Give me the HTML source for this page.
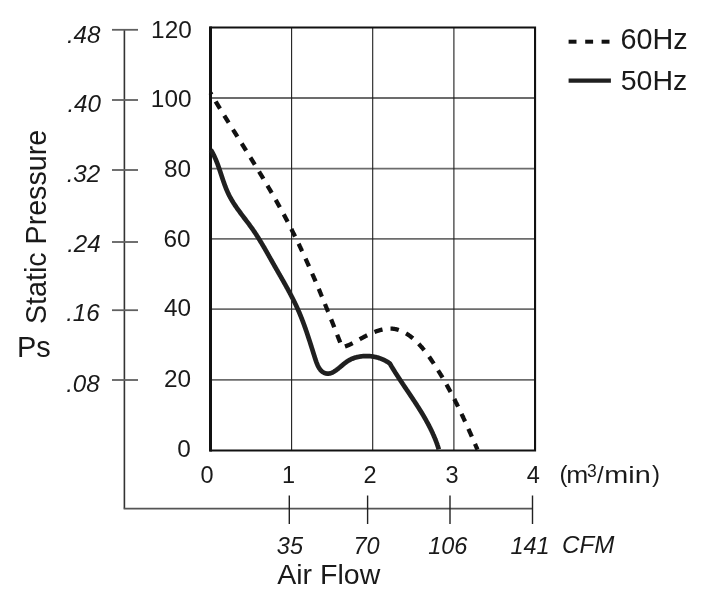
<!DOCTYPE html><html><head><meta charset="utf-8"><title>Static Pressure vs Air Flow</title>
<style>html,body{margin:0;padding:0;background:#fff;}body{width:706px;height:596px;overflow:hidden;}svg{display:block;filter:grayscale(1);}text{font-family:'Liberation Sans', Arial, Helvetica, sans-serif;fill:#1c1a1b;}</style></head><body>
<svg width="706" height="596" viewBox="0 0 706 596">
<rect width="706" height="596" fill="#fff"/>
<line x1="210.6" y1="98.00" x2="535.0" y2="98.00" stroke="#6c6c6c" stroke-width="1.8"/>
<line x1="210.6" y1="168.60" x2="535.0" y2="168.60" stroke="#6c6c6c" stroke-width="1.8"/>
<line x1="210.6" y1="238.90" x2="535.0" y2="238.90" stroke="#6c6c6c" stroke-width="1.8"/>
<line x1="210.6" y1="309.20" x2="535.0" y2="309.20" stroke="#6c6c6c" stroke-width="1.8"/>
<line x1="210.6" y1="379.80" x2="535.0" y2="379.80" stroke="#6c6c6c" stroke-width="1.8"/>
<line x1="291.60" y1="27.5" x2="291.60" y2="450.5" stroke="#1e1e1e" stroke-width="1.1"/>
<line x1="372.70" y1="27.5" x2="372.70" y2="450.5" stroke="#1e1e1e" stroke-width="1.1"/>
<line x1="453.90" y1="27.5" x2="453.90" y2="450.5" stroke="#1e1e1e" stroke-width="1.1"/>
<path d="M210.60 27.50 H535.05 V450.50 H210.60" fill="none" stroke="#111" stroke-width="2.1" stroke-linecap="square"/>
<line x1="210.5" y1="26.5" x2="210.5" y2="451.5" stroke="#111" stroke-width="3"/>
<line x1="124.4" y1="29.8" x2="124.4" y2="508.6" stroke="#333" stroke-width="1.6"/>
<line x1="112" y1="29.8" x2="138" y2="29.8" stroke="#606060" stroke-width="1.8"/>
<line x1="112" y1="100.0" x2="138" y2="100.0" stroke="#606060" stroke-width="1.8"/>
<line x1="112" y1="170.0" x2="138" y2="170.0" stroke="#606060" stroke-width="1.8"/>
<line x1="112" y1="242.0" x2="138" y2="242.0" stroke="#606060" stroke-width="1.8"/>
<line x1="112" y1="310.2" x2="138" y2="310.2" stroke="#606060" stroke-width="1.8"/>
<line x1="112" y1="380.0" x2="138" y2="380.0" stroke="#606060" stroke-width="1.8"/>
<line x1="123.6" y1="508.6" x2="532.5" y2="508.6" stroke="#555" stroke-width="1.8"/>
<line x1="289.3" y1="495.5" x2="289.3" y2="524" stroke="#222" stroke-width="1.4"/>
<line x1="367.6" y1="495.5" x2="367.6" y2="524" stroke="#222" stroke-width="1.4"/>
<line x1="450.0" y1="495.5" x2="450.0" y2="524" stroke="#222" stroke-width="1.4"/>
<line x1="532.5" y1="495.5" x2="532.5" y2="524" stroke="#222" stroke-width="1.4"/>
<path d="M210.75 149.76 L211.09 150.31 L211.43 150.86 L211.75 151.42 L212.07 151.98 L212.39 152.54 L212.69 153.11 L213.00 153.68 L213.30 154.25 L213.59 154.83 L213.88 155.41 L214.16 155.99 L214.44 156.57 L214.71 157.16 L214.98 157.75 L215.24 158.34 L215.50 158.94 L215.76 159.53 L216.01 160.13 L216.26 160.73 L216.50 161.33 L216.74 161.94 L216.98 162.55 L217.22 163.15 L217.45 163.76 L217.68 164.38 L217.90 164.99 L218.13 165.60 L218.35 166.22 L218.57 166.84 L218.79 167.45 L219.00 168.07 L219.22 168.69 L219.43 169.32 L219.64 169.94 L219.85 170.56 L220.06 171.18 L220.27 171.81 L220.48 172.43 L220.68 173.06 L220.89 173.68 L221.09 174.31 L221.30 174.93 L221.51 175.56 L221.71 176.18 L221.92 176.81 L222.12 177.43 L222.33 178.06 L222.54 178.68 L222.75 179.30 L222.96 179.93 L223.17 180.55 L223.38 181.17 L223.59 181.79 L223.81 182.41 L224.03 183.03 L224.25 183.65 L224.47 184.26 L224.69 184.88 L224.92 185.49 L225.15 186.10 L225.38 186.72 L225.62 187.32 L225.85 187.93 L226.09 188.54 L226.34 189.14 L226.59 189.74 L226.84 190.34 L227.09 190.94 L227.35 191.53 L227.62 192.13 L227.89 192.72 L228.16 193.31 L228.44 193.89 L228.72 194.47 L229.00 195.05 L229.30 195.63 L229.59 196.21 L229.89 196.78 L230.20 197.35 L230.51 197.91 L230.82 198.48 L231.14 199.04 L231.46 199.60 L231.79 200.16 L232.12 200.71 L232.46 201.27 L232.79 201.82 L233.13 202.37 L233.48 202.91 L233.83 203.46 L234.18 204.00 L234.53 204.55 L234.89 205.09 L235.25 205.62 L235.61 206.16 L235.98 206.70 L236.35 207.23 L236.72 207.76 L237.09 208.30 L237.46 208.83 L237.84 209.36 L238.22 209.88 L238.60 210.41 L238.98 210.94 L239.37 211.46 L239.75 211.99 L240.14 212.51 L240.53 213.03 L240.92 213.55 L241.31 214.08 L241.70 214.60 L242.09 215.12 L242.48 215.64 L242.88 216.16 L243.27 216.68 L243.67 217.20 L244.06 217.71 L244.45 218.23 L244.85 218.75 L245.24 219.27 L245.64 219.79 L246.03 220.31 L246.43 220.83 L246.82 221.35 L247.21 221.87 L247.61 222.39 L248.00 222.91 L248.39 223.43 L248.78 223.95 L249.16 224.47 L249.55 224.99 L249.94 225.52 L250.32 226.04 L250.70 226.57 L251.08 227.09 L251.46 227.62 L251.84 228.15 L252.21 228.68 L252.58 229.21 L252.95 229.74 L253.32 230.28 L253.69 230.81 L254.05 231.34 L254.42 231.88 L254.78 232.42 L255.14 232.96 L255.49 233.50 L255.85 234.04 L256.20 234.58 L256.55 235.12 L256.90 235.66 L257.25 236.21 L257.60 236.75 L257.95 237.30 L258.29 237.84 L258.63 238.39 L258.98 238.94 L259.32 239.49 L259.65 240.04 L259.99 240.59 L260.33 241.14 L260.66 241.69 L261.00 242.25 L261.33 242.80 L261.66 243.35 L261.99 243.91 L262.32 244.46 L262.65 245.02 L262.98 245.58 L263.31 246.14 L263.64 246.69 L263.96 247.25 L264.29 247.81 L264.61 248.37 L264.93 248.93 L265.26 249.49 L265.58 250.06 L265.90 250.62 L266.22 251.18 L266.55 251.74 L266.87 252.31 L267.19 252.87 L267.51 253.43 L267.83 254.00 L268.15 254.56 L268.47 255.13 L268.79 255.69 L269.10 256.26 L269.42 256.83 L269.74 257.39 L270.06 257.96 L270.38 258.53 L270.70 259.09 L271.02 259.66 L271.34 260.23 L271.66 260.79 L271.98 261.36 L272.30 261.93 L272.62 262.50 L272.94 263.07 L273.26 263.64 L273.58 264.20 L273.91 264.77 L274.23 265.34 L274.55 265.91 L274.87 266.48 L275.20 267.05 L275.52 267.61 L275.85 268.18 L276.17 268.75 L276.50 269.32 L276.83 269.89 L277.15 270.46 L277.48 271.03 L277.80 271.60 L278.13 272.16 L278.46 272.73 L278.78 273.30 L279.11 273.87 L279.44 274.44 L279.76 275.01 L280.09 275.58 L280.42 276.15 L280.74 276.72 L281.07 277.29 L281.40 277.86 L281.72 278.43 L282.05 279.00 L282.37 279.57 L282.70 280.15 L283.02 280.72 L283.35 281.29 L283.67 281.86 L283.99 282.43 L284.31 283.00 L284.64 283.58 L284.96 284.15 L285.28 284.72 L285.60 285.29 L285.92 285.87 L286.24 286.44 L286.55 287.01 L286.87 287.59 L287.19 288.16 L287.50 288.73 L287.82 289.31 L288.13 289.88 L288.44 290.46 L288.75 291.03 L289.06 291.61 L289.37 292.18 L289.68 292.76 L289.99 293.34 L290.29 293.91 L290.60 294.49 L290.90 295.07 L291.21 295.64 L291.51 296.22 L291.81 296.80 L292.10 297.38 L292.40 297.96 L292.70 298.54 L292.99 299.11 L293.28 299.69 L293.57 300.27 L293.86 300.85 L294.15 301.44 L294.43 302.02 L294.72 302.60 L295.00 303.18 L295.28 303.76 L295.56 304.34 L295.84 304.93 L296.11 305.51 L296.39 306.09 L296.66 306.68 L296.93 307.26 L297.19 307.85 L297.46 308.43 L297.72 309.02 L297.98 309.60 L298.24 310.19 L298.50 310.78 L298.76 311.37 L299.01 311.95 L299.26 312.54 L299.51 313.13 L299.76 313.72 L300.00 314.31 L300.25 314.90 L300.49 315.49 L300.73 316.08 L300.97 316.68 L301.21 317.27 L301.44 317.86 L301.68 318.46 L301.91 319.05 L302.14 319.65 L302.37 320.24 L302.60 320.84 L302.83 321.44 L303.06 322.04 L303.28 322.64 L303.50 323.24 L303.73 323.84 L303.95 324.44 L304.17 325.04 L304.39 325.64 L304.60 326.25 L304.82 326.85 L305.04 327.46 L305.25 328.06 L305.47 328.67 L305.68 329.28 L305.89 329.89 L306.10 330.50 L306.31 331.11 L306.52 331.72 L306.73 332.33 L306.94 332.95 L307.15 333.56 L307.36 334.18 L307.56 334.79 L307.77 335.41 L307.97 336.03 L308.18 336.65 L308.38 337.27 L308.59 337.89 L308.79 338.51 L309.00 339.14 L309.20 339.76 L309.40 340.39 L309.61 341.02 L309.81 341.65 L310.01 342.27 L310.21 342.91 L310.42 343.54 L310.62 344.17 L310.82 344.81 L311.02 345.44 L311.23 346.08 L311.43 346.72 L311.63 347.36 L311.83 348.00 L312.04 348.64 L312.24 349.28 L312.44 349.93 L312.65 350.57 L312.85 351.22 L313.06 351.87 L313.26 352.52 L313.47 353.17 L313.67 353.82 L313.88 354.48 L314.09 355.13 L314.29 355.79 L314.50 356.45 L314.71 357.11 L314.92 357.77 L315.13 358.43 L315.35 359.09 L315.56 359.75 L315.78 360.41 L316.01 361.06 L316.23 361.71 L316.47 362.35 L316.71 362.98 L316.96 363.61 L317.21 364.22 L317.47 364.83 L317.74 365.43 L318.02 366.01 L318.31 366.58 L318.61 367.13 L318.92 367.67 L319.25 368.20 L319.58 368.70 L319.93 369.19 L320.29 369.66 L320.67 370.11 L321.06 370.53 L321.47 370.94 L321.89 371.32 L322.33 371.67 L322.79 372.00 L323.27 372.30 L323.76 372.58 L324.27 372.82 L324.79 373.04 L325.32 373.22 L325.87 373.38 L326.42 373.49 L326.99 373.57 L327.56 373.62 L328.13 373.63 L328.71 373.60 L329.29 373.52 L329.87 373.41 L330.44 373.26 L331.02 373.07 L331.60 372.84 L332.17 372.59 L332.74 372.30 L333.30 372.00 L333.86 371.68 L334.41 371.34 L334.96 370.98 L335.50 370.62 L336.04 370.24 L336.57 369.86 L337.10 369.46 L337.63 369.06 L338.15 368.64 L338.67 368.23 L339.19 367.80 L339.71 367.38 L340.23 366.94 L340.74 366.51 L341.26 366.08 L341.78 365.64 L342.30 365.21 L342.81 364.78 L343.33 364.35 L343.86 363.93 L344.38 363.51 L344.91 363.10 L345.44 362.69 L345.98 362.29 L346.52 361.90 L347.06 361.53 L347.62 361.16 L348.17 360.80 L348.74 360.46 L349.31 360.13 L349.88 359.82 L350.46 359.52 L351.05 359.24 L351.65 358.97 L352.25 358.71 L352.85 358.47 L353.46 358.24 L354.08 358.02 L354.70 357.81 L355.32 357.62 L355.95 357.44 L356.58 357.27 L357.21 357.11 L357.84 356.97 L358.48 356.84 L359.12 356.71 L359.76 356.60 L360.41 356.50 L361.05 356.41 L361.69 356.32 L362.34 356.25 L362.98 356.19 L363.63 356.14 L364.28 356.10 L364.92 356.07 L365.57 356.05 L366.22 356.03 L366.86 356.03 L367.51 356.04 L368.15 356.06 L368.80 356.09 L369.44 356.13 L370.08 356.18 L370.73 356.24 L371.37 356.31 L372.01 356.39 L372.64 356.48 L373.28 356.58 L373.92 356.70 L374.55 356.82 L375.18 356.95 L375.81 357.09 L376.44 357.24 L377.07 357.41 L377.69 357.58 L378.31 357.76 L378.93 357.96 L379.54 358.16 L380.16 358.37 L380.77 358.60 L381.37 358.83 L381.98 359.08 L382.58 359.34 L383.18 359.60 L383.77 359.88 L384.36 360.17 L384.94 360.47 L385.53 360.77 L386.11 361.09 L386.68 361.42 L387.25 361.76 L387.81 362.11 L388.38 362.47 L388.93 362.84 L389.48 363.23 L389.83 363.52 L390.08 363.96 L390.33 364.38 L390.59 364.81 L390.84 365.24 L391.09 365.67 L391.35 366.10 L391.60 366.53 L391.86 366.95 L392.12 367.38 L392.38 367.81 L392.64 368.23 L392.90 368.66 L393.16 369.09 L393.42 369.51 L393.68 369.93 L393.95 370.36 L394.21 370.78 L394.48 371.21 L394.74 371.63 L395.01 372.05 L395.27 372.48 L395.54 372.90 L395.81 373.32 L396.08 373.74 L396.35 374.17 L396.62 374.59 L396.89 375.01 L397.16 375.43 L397.43 375.85 L397.70 376.27 L397.98 376.69 L398.25 377.11 L398.52 377.53 L398.80 377.95 L399.07 378.37 L399.35 378.79 L399.62 379.21 L399.90 379.63 L400.17 380.05 L400.45 380.47 L400.73 380.88 L401.00 381.30 L401.28 381.72 L401.56 382.14 L401.84 382.56 L402.12 382.97 L402.40 383.39 L402.68 383.81 L402.95 384.23 L403.23 384.64 L403.51 385.06 L403.79 385.48 L404.07 385.90 L404.36 386.31 L404.64 386.73 L404.92 387.15 L405.20 387.56 L405.48 387.98 L405.76 388.40 L406.04 388.82 L406.32 389.23 L406.60 389.65 L406.88 390.07 L407.17 390.48 L407.45 390.90 L407.73 391.32 L408.01 391.73 L408.29 392.15 L408.57 392.57 L408.85 392.99 L409.13 393.40 L409.41 393.82 L409.69 394.24 L409.98 394.66 L410.26 395.07 L410.54 395.49 L410.82 395.91 L411.10 396.33 L411.38 396.75 L411.66 397.16 L411.93 397.58 L412.21 398.00 L412.49 398.42 L412.77 398.84 L413.05 399.26 L413.33 399.68 L413.60 400.09 L413.88 400.51 L414.16 400.93 L414.43 401.35 L414.71 401.77 L414.99 402.19 L415.26 402.61 L415.54 403.04 L415.81 403.46 L416.08 403.88 L416.36 404.30 L416.63 404.72 L416.90 405.14 L417.17 405.57 L417.45 405.99 L417.72 406.41 L417.99 406.83 L418.26 407.26 L418.53 407.68 L418.79 408.10 L419.06 408.53 L419.33 408.95 L419.60 409.38 L419.86 409.80 L420.13 410.23 L420.39 410.66 L420.65 411.08 L420.92 411.51 L421.18 411.94 L421.44 412.36 L421.70 412.79 L421.96 413.22 L422.22 413.65 L422.48 414.08 L422.74 414.51 L422.99 414.94 L423.25 415.37 L423.50 415.80 L423.76 416.23 L424.01 416.66 L424.26 417.10 L424.51 417.53 L424.76 417.96 L425.01 418.40 L425.26 418.83 L425.51 419.26 L425.75 419.70 L426.00 420.14 L426.24 420.57 L426.48 421.01 L426.72 421.45 L426.97 421.88 L427.20 422.32 L427.44 422.76 L427.68 423.20 L427.92 423.64 L428.15 424.08 L428.39 424.52 L428.62 424.96 L428.85 425.41 L429.08 425.85 L429.31 426.29 L429.54 426.74 L429.76 427.18 L429.99 427.63 L430.21 428.08 L430.43 428.52 L430.65 428.97 L430.87 429.42 L431.09 429.87 L431.31 430.32 L431.52 430.77 L431.74 431.22 L431.95 431.67 L432.16 432.12 L432.37 432.58 L432.58 433.03 L432.79 433.48 L432.99 433.94 L433.19 434.40 L433.40 434.85 L433.60 435.31 L433.80 435.77 L433.99 436.23 L434.19 436.69 L434.38 437.15 L434.58 437.61 L434.77 438.07 L434.96 438.53 L435.14 439.00 L435.33 439.46 L435.51 439.93 L435.70 440.40 L435.88 440.86 L436.06 441.33 L436.23 441.80 L436.41 442.27 L436.58 442.74 L436.76 443.21 L436.93 443.68 L437.09 444.16 L437.26 444.63 L437.42 445.11 L437.59 445.58 L437.75 446.06 L437.91 446.54 L438.06 447.02 L438.22 447.50 L438.37 447.98 L438.52 448.46 L438.67 448.94 L438.82 449.43" fill="none" stroke="#231f20" stroke-width="4.7" stroke-linejoin="round"/>
<path d="M210.48 92.87 L210.69 93.23 L210.90 93.58 L211.11 93.93 L211.32 94.28 L211.53 94.63 L211.74 94.99 L211.95 95.34 L212.17 95.69 L212.38 96.04 L212.59 96.39 L212.80 96.75 L213.01 97.10 L213.22 97.45 L213.43 97.80 L213.64 98.15 L213.85 98.50 L214.07 98.86 L214.28 99.21 L214.49 99.56 L214.70 99.91 L214.91 100.26 L215.13 100.61 L215.34 100.96 L215.55 101.31 L215.76 101.67 L215.97 102.02 L216.19 102.37 L216.40 102.72 L216.61 103.07 L216.83 103.42 L217.04 103.77 L217.25 104.12 L217.47 104.47 L217.68 104.82 L217.89 105.17 L218.11 105.52 L218.32 105.87 L218.53 106.22 L218.75 106.57 L218.96 106.92 L219.18 107.28 L219.39 107.63 L219.60 107.98 L219.82 108.33 L220.03 108.68 L220.25 109.03 L220.46 109.38 L220.68 109.73 L220.89 110.08 L221.11 110.43 L221.32 110.78 L221.54 111.13 L221.75 111.48 L221.97 111.83 L222.18 112.17 L222.40 112.52 L222.61 112.87 L222.83 113.22 L223.04 113.57 L223.26 113.92 L223.47 114.27 L223.69 114.62 L223.91 114.97 L224.12 115.32 L224.34 115.67 L224.55 116.02 L224.77 116.37 L224.99 116.72 L225.20 117.07 L225.42 117.42 L225.63 117.77 L225.85 118.12 L226.07 118.46 L226.28 118.81 L226.50 119.16 L226.72 119.51 L226.93 119.86 L227.15 120.21 L227.37 120.56 L227.58 120.91 L227.80 121.26 L228.02 121.61 L228.23 121.96 L228.45 122.30 L228.67 122.65 L228.89 123.00 L229.10 123.35 L229.32 123.70 L229.54 124.05 L229.75 124.40 L229.97 124.75 L230.19 125.09 L230.41 125.44 L230.62 125.79 L230.84 126.14 L231.06 126.49 L231.28 126.84 L231.49 127.19 L231.71 127.54 L231.93 127.88 L232.15 128.23 L232.36 128.58 L232.58 128.93 L232.80 129.28 L233.02 129.63 L233.24 129.98 L233.45 130.33 L233.67 130.67 L233.89 131.02 L234.11 131.37 L234.32 131.72 L234.54 132.07 L234.76 132.42 L234.98 132.76 L235.20 133.11 L235.41 133.46 L235.63 133.81 L235.85 134.16 L236.07 134.51 L236.29 134.86 L236.50 135.20 L236.72 135.55 L236.94 135.90 L237.16 136.25 L237.38 136.60 L237.59 136.95 L237.81 137.30 L238.03 137.64 L238.25 137.99 L238.47 138.34 L238.68 138.69 L238.90 139.04 L239.12 139.39 L239.34 139.74 L239.56 140.08 L239.77 140.43 L239.99 140.78 L240.21 141.13 L240.43 141.48 L240.65 141.83 L240.86 142.18 L241.08 142.52 L241.30 142.87 L241.52 143.22 L241.74 143.57 L241.95 143.92 L242.17 144.27 L242.39 144.62 L242.61 144.96 L242.83 145.31 L243.04 145.66 L243.26 146.01 L243.48 146.36 L243.70 146.71 L243.91 147.06 L244.13 147.41 L244.35 147.75 L244.57 148.10 L244.78 148.45 L245.00 148.80 L245.22 149.15 L245.44 149.50 L245.65 149.85 L245.87 150.20 L246.09 150.55 L246.31 150.89 L246.52 151.24 L246.74 151.59 L246.96 151.94 L247.18 152.29 L247.39 152.64 L247.61 152.99 L247.83 153.34 L248.04 153.69 L248.26 154.04 L248.48 154.39 L248.69 154.73 L248.91 155.08 L249.13 155.43 L249.34 155.78 L249.56 156.13 L249.78 156.48 L249.99 156.83 L250.21 157.18 L250.43 157.53 L250.64 157.88 L250.86 158.23 L251.08 158.58 L251.29 158.93 L251.51 159.28 L251.73 159.63 L251.94 159.98 L252.16 160.33 L252.37 160.68 L252.59 161.03 L252.80 161.38 L253.02 161.73 L253.24 162.08 L253.45 162.43 L253.67 162.78 L253.88 163.13 L254.10 163.48 L254.31 163.83 L254.53 164.18 L254.74 164.53 L254.96 164.88 L255.17 165.23 L255.39 165.58 L255.60 165.93 L255.82 166.28 L256.03 166.63 L256.25 166.98 L256.46 167.33 L256.68 167.68 L256.89 168.03 L257.10 168.38 L257.32 168.73 L257.53 169.08 L257.75 169.43 L257.96 169.78 L258.17 170.13 L258.39 170.49 L258.60 170.84 L258.81 171.19 L259.03 171.54 L259.24 171.89 L259.45 172.24 L259.67 172.59 L259.88 172.94 L260.09 173.30 L260.31 173.65 L260.52 174.00 L260.73 174.35 L260.94 174.70 L261.16 175.05 L261.37 175.40 L261.58 175.76 L261.79 176.11 L262.00 176.46 L262.22 176.81 L262.43 177.16 L262.64 177.52 L262.85 177.87 L263.06 178.22 L263.27 178.57 L263.48 178.93 L263.69 179.28 L263.91 179.63 L264.12 179.98 L264.33 180.34 L264.54 180.69 L264.75 181.04 L264.96 181.39 L265.17 181.75 L265.38 182.10 L265.59 182.45 L265.80 182.80 L266.01 183.16 L266.22 183.51 L266.43 183.86 L266.64 184.22 L266.84 184.57 L267.05 184.92 L267.26 185.28 L267.47 185.63 L267.68 185.99 L267.89 186.34 L268.10 186.69 L268.30 187.05 L268.51 187.40 L268.72 187.75 L268.93 188.11 L269.13 188.46 L269.34 188.82 L269.55 189.17 L269.76 189.53 L269.96 189.88 L270.17 190.23 L270.38 190.59 L270.58 190.94 L270.79 191.30 L271.00 191.65 L271.20 192.01 L271.41 192.36 L271.61 192.72 L271.82 193.07 L272.02 193.43 L272.23 193.78 L272.43 194.14 L272.64 194.50 L272.84 194.85 L273.05 195.21 L273.25 195.56 L273.46 195.92 L273.66 196.27 L273.86 196.63 L274.07 196.99 L274.27 197.34 L274.47 197.70 L274.68 198.06 L274.88 198.41 L275.08 198.77 L275.29 199.13 L275.49 199.48 L275.69 199.84 L275.89 200.20 L276.09 200.55 L276.30 200.91 L276.50 201.27 L276.70 201.63 L276.90 201.98 L277.10 202.34 L277.30 202.70 L277.50 203.06 L277.70 203.41 L277.90 203.77 L278.10 204.13 L278.30 204.49 L278.50 204.85 L278.70 205.20 L278.90 205.56 L279.10 205.92 L279.30 206.28 L279.50 206.64 L279.70 207.00 L279.90 207.36 L280.09 207.71 L280.29 208.07 L280.49 208.43 L280.69 208.79 L280.88 209.15 L281.08 209.51 L281.28 209.87 L281.47 210.23 L281.67 210.59 L281.87 210.95 L282.06 211.31 L282.26 211.67 L282.45 212.03 L282.65 212.39 L282.84 212.75 L283.04 213.11 L283.23 213.47 L283.43 213.83 L283.62 214.20 L283.82 214.56 L284.01 214.92 L284.20 215.28 L284.40 215.64 L284.59 216.00 L284.78 216.36 L284.98 216.73 L285.17 217.09 L285.36 217.45 L285.55 217.81 L285.75 218.17 L285.94 218.54 L286.13 218.90 L286.32 219.26 L286.51 219.62 L286.70 219.99 L286.89 220.35 L287.08 220.71 L287.27 221.08 L287.46 221.44 L287.65 221.80 L287.84 222.17 L288.03 222.53 L288.22 222.89 L288.41 223.26 L288.59 223.62 L288.78 223.99 L288.97 224.35 L289.16 224.71 L289.35 225.08 L289.53 225.44 L289.72 225.81 L289.91 226.17 L290.09 226.54 L290.28 226.90 L290.47 227.27 L290.65 227.63 L290.84 228.00 L291.02 228.36 L291.21 228.73 L291.39 229.09 L291.58 229.46 L291.76 229.83 L291.95 230.19 L292.13 230.56 L292.32 230.92 L292.50 231.29 L292.68 231.66 L292.87 232.02 L293.05 232.39 L293.23 232.76 L293.42 233.12 L293.60 233.49 L293.78 233.86 L293.96 234.22 L294.15 234.59 L294.33 234.96 L294.51 235.33 L294.69 235.69 L294.87 236.06 L295.05 236.43 L295.23 236.80 L295.41 237.17 L295.59 237.53 L295.77 237.90 L295.95 238.27 L296.13 238.64 L296.31 239.01 L296.49 239.38 L296.67 239.74 L296.85 240.11 L297.03 240.48 L297.21 240.85 L297.39 241.22 L297.57 241.59 L297.74 241.96 L297.92 242.33 L298.10 242.70 L298.28 243.07 L298.45 243.44 L298.63 243.81 L298.81 244.18 L298.98 244.55 L299.16 244.92 L299.34 245.29 L299.51 245.66 L299.69 246.03 L299.86 246.40 L300.04 246.77 L300.22 247.14 L300.39 247.51 L300.57 247.88 L300.74 248.25 L300.92 248.62 L301.09 248.99 L301.26 249.36 L301.44 249.73 L301.61 250.11 L301.79 250.48 L301.96 250.85 L302.13 251.22 L302.31 251.59 L302.48 251.96 L302.65 252.34 L302.83 252.71 L303.00 253.08 L303.17 253.45 L303.34 253.82 L303.51 254.20 L303.69 254.57 L303.86 254.94 L304.03 255.31 L304.20 255.69 L304.37 256.06 L304.54 256.43 L304.71 256.80 L304.88 257.18 L305.06 257.55 L305.23 257.92 L305.40 258.30 L305.57 258.67 L305.74 259.04 L305.91 259.42 L306.07 259.79 L306.24 260.16 L306.41 260.54 L306.58 260.91 L306.75 261.28 L306.92 261.66 L307.09 262.03 L307.26 262.41 L307.43 262.78 L307.59 263.16 L307.76 263.53 L307.93 263.90 L308.10 264.28 L308.26 264.65 L308.43 265.03 L308.60 265.40 L308.77 265.78 L308.93 266.15 L309.10 266.53 L309.27 266.90 L309.43 267.28 L309.60 267.65 L309.76 268.03 L309.93 268.40 L310.10 268.78 L310.26 269.15 L310.43 269.53 L310.59 269.90 L310.76 270.28 L310.92 270.66 L311.09 271.03 L311.25 271.41 L311.42 271.78 L311.58 272.16 L311.75 272.54 L311.91 272.91 L312.08 273.29 L312.24 273.66 L312.40 274.04 L312.57 274.42 L312.73 274.79 L312.89 275.17 L313.06 275.55 L313.22 275.92 L313.38 276.30 L313.55 276.68 L313.71 277.05 L313.87 277.43 L314.03 277.81 L314.20 278.19 L314.36 278.56 L314.52 278.94 L314.68 279.32 L314.84 279.69 L315.01 280.07 L315.17 280.45 L315.33 280.83 L315.49 281.20 L315.65 281.58 L315.81 281.96 L315.97 282.34 L316.13 282.72 L316.29 283.09 L316.46 283.47 L316.62 283.85 L316.78 284.23 L316.94 284.61 L317.10 284.98 L317.26 285.36 L317.42 285.74 L317.58 286.12 L317.74 286.50 L317.89 286.88 L318.05 287.25 L318.21 287.63 L318.37 288.01 L318.53 288.39 L318.69 288.77 L318.85 289.15 L319.01 289.53 L319.17 289.91 L319.32 290.28 L319.48 290.66 L319.64 291.04 L319.80 291.42 L319.96 291.80 L320.12 292.18 L320.27 292.56 L320.43 292.94 L320.59 293.32 L320.75 293.70 L320.90 294.08 L321.06 294.46 L321.22 294.84 L321.37 295.22 L321.53 295.60 L321.69 295.98 L321.84 296.36 L322.00 296.74 L322.16 297.12 L322.31 297.50 L322.47 297.88 L322.63 298.26 L322.78 298.64 L322.94 299.02 L323.10 299.40 L323.25 299.78 L323.41 300.16 L323.56 300.54 L323.72 300.92 L323.87 301.30 L324.03 301.68 L324.18 302.06 L324.34 302.44 L324.49 302.82 L324.65 303.20 L324.80 303.58 L324.96 303.96 L325.11 304.34 L325.27 304.72 L325.42 305.11 L325.58 305.49 L325.73 305.87 L325.89 306.25 L326.04 306.63 L326.19 307.01 L326.35 307.39 L326.50 307.77 L326.66 308.15 L326.81 308.54 L326.96 308.92 L327.12 309.30 L327.27 309.68 L327.42 310.06 L327.58 310.44 L327.73 310.82 L327.88 311.21 L328.04 311.59 L328.19 311.97 L328.34 312.35 L328.50 312.73 L328.65 313.11 L328.80 313.49 L328.95 313.88 L329.11 314.26 L329.26 314.64 L329.41 315.02 L329.56 315.40 L329.72 315.79 L329.87 316.17 L330.02 316.55 L330.17 316.93 L330.32 317.31 L330.48 317.70 L330.63 318.08 L330.78 318.46 L330.93 318.84 L331.08 319.22 L331.24 319.61 L331.39 319.99 L331.54 320.37 L331.69 320.75 L331.84 321.14 L331.99 321.52 L332.14 321.90 L332.29 322.28 L332.45 322.67 L332.60 323.05 L332.75 323.43 L332.90 323.81 L333.05 324.20 L333.20 324.58 L333.35 324.96 L333.50 325.34 L333.65 325.73 L333.80 326.11 L333.95 326.49 L334.10 326.87 L334.25 327.26 L334.41 327.64 L334.56 328.02 L334.71 328.41 L334.86 328.79 L335.01 329.17 L335.16 329.55 L335.31 329.94 L335.46 330.32 L335.61 330.70 L335.76 331.09 L335.91 331.47 L336.06 331.85 L336.21 332.23 L336.36 332.62 L336.51 333.00 L336.66 333.38 L336.81 333.77 L336.95 334.15 L337.10 334.53 L337.25 334.92 L337.40 335.30 L337.55 335.68 L337.70 336.07 L337.85 336.45 L338.00 336.83 L338.15 337.22 L338.30 337.60 L338.45 337.98 L338.60 338.36 L338.75 338.75 L338.90 339.13 L339.05 339.51 L339.19 339.90 L339.34 340.28 L339.49 340.66 L339.64 341.05 L339.79 341.43 L339.94 341.81 L340.09 342.20 L340.24 342.58 L340.39 342.96 L340.53 343.35 L340.68 343.73 L340.83 344.12 L340.98 344.50 L341.13 344.88 L341.28 345.27 L341.43 345.65 L341.58 346.03 L341.72 346.42 L341.87 346.80 L342.02 347.18 L342.90 347.13 L343.16 347.06 L343.42 346.99 L343.69 346.91 L343.95 346.83 L344.21 346.75 L344.47 346.67 L344.73 346.58 L344.99 346.49 L345.26 346.40 L345.52 346.31 L345.78 346.22 L346.04 346.12 L346.30 346.02 L346.56 345.92 L346.82 345.82 L347.08 345.72 L347.35 345.61 L347.61 345.51 L347.87 345.40 L348.13 345.29 L348.39 345.17 L348.65 345.06 L348.91 344.95 L349.17 344.83 L349.44 344.71 L349.70 344.59 L349.96 344.47 L350.22 344.34 L350.48 344.22 L350.74 344.09 L351.00 343.97 L351.27 343.84 L351.53 343.71 L351.79 343.58 L352.05 343.45 L352.31 343.31 L352.57 343.18 L352.84 343.04 L353.10 342.91 L353.36 342.77 L353.62 342.63 L353.89 342.49 L354.15 342.35 L354.41 342.21 L354.68 342.07 L354.94 341.93 L355.20 341.79 L355.47 341.64 L355.73 341.50 L355.99 341.35 L356.26 341.21 L356.52 341.06 L356.79 340.92 L357.05 340.77 L357.31 340.62 L357.58 340.47 L357.84 340.33 L358.11 340.18 L358.38 340.03 L358.64 339.88 L358.91 339.73 L359.17 339.58 L359.44 339.43 L359.71 339.28 L359.97 339.13 L360.24 338.98 L360.51 338.83 L360.78 338.68 L361.05 338.54 L361.31 338.39 L361.58 338.24 L361.85 338.09 L362.12 337.94 L362.39 337.79 L362.66 337.64 L362.93 337.50 L363.20 337.35 L363.47 337.20 L363.74 337.06 L364.02 336.91 L364.29 336.76 L364.56 336.62 L364.83 336.48 L365.11 336.33 L365.38 336.19 L365.65 336.05 L365.93 335.91 L366.20 335.77 L366.48 335.63 L366.75 335.49 L367.02 335.35 L367.30 335.21 L367.58 335.07 L367.85 334.94 L368.13 334.80 L368.40 334.67 L368.68 334.53 L368.96 334.40 L369.24 334.27 L369.51 334.14 L369.79 334.01 L370.07 333.88 L370.35 333.75 L370.62 333.63 L370.90 333.50 L371.18 333.38 L371.46 333.25 L371.74 333.13 L372.02 333.01 L372.30 332.89 L372.58 332.77 L372.86 332.65 L373.14 332.54 L373.42 332.42 L373.70 332.31 L373.98 332.19 L374.26 332.08 L374.54 331.97 L374.82 331.87 L375.10 331.76 L375.38 331.65 L375.66 331.55 L375.94 331.45 L376.22 331.34 L376.50 331.24 L376.78 331.15 L377.07 331.05 L377.35 330.95 L377.63 330.86 L377.91 330.77 L378.19 330.68 L378.47 330.59 L378.75 330.50 L379.03 330.42 L379.32 330.33 L379.60 330.25 L379.88 330.17 L380.16 330.09 L380.44 330.01 L380.72 329.94 L381.00 329.87 L381.28 329.79 L381.57 329.73 L381.85 329.66 L382.13 329.59 L382.41 329.53 L382.69 329.47 L382.97 329.41 L383.25 329.35 L383.53 329.29 L383.81 329.24 L384.09 329.19 L384.37 329.14 L384.65 329.09 L384.93 329.05 L385.21 329.00 L385.49 328.96 L385.77 328.92 L386.05 328.89 L386.33 328.85 L386.61 328.82 L386.89 328.79 L387.17 328.76 L387.45 328.74 L387.72 328.71 L388.00 328.69 L388.28 328.68 L388.56 328.66 L388.83 328.65 L389.11 328.64 L389.39 328.63 L389.67 328.62 L389.94 328.62 L390.22 328.62 L390.50 328.62 L390.77 328.62 L391.05 328.63 L391.32 328.64 L391.60 328.65 L391.87 328.67 L392.15 328.68 L392.42 328.70 L392.69 328.73 L392.97 328.75 L393.24 328.78 L393.51 328.81 L393.79 328.85 L394.06 328.88 L394.33 328.92 L394.60 328.96 L394.87 329.01 L395.14 329.06 L395.41 329.11 L395.68 329.16 L395.95 329.22 L396.22 329.28 L396.49 329.34 L396.76 329.41 L397.03 329.48 L397.29 329.55 L397.56 329.62 L397.83 329.70 L398.10 329.78 L398.36 329.86 L398.63 329.94 L398.89 330.03 L399.16 330.12 L399.42 330.21 L399.68 330.30 L399.95 330.40 L400.21 330.50 L400.47 330.60 L400.73 330.71 L401.00 330.81 L401.26 330.92 L401.52 331.04 L401.78 331.15 L402.04 331.27 L402.30 331.38 L402.55 331.50 L402.81 331.63 L403.07 331.75 L403.33 331.88 L403.58 332.01 L403.84 332.14 L404.09 332.28 L404.35 332.41 L404.60 332.55 L404.86 332.69 L405.11 332.83 L405.36 332.98 L405.61 333.13 L405.87 333.27 L406.12 333.42 L406.37 333.58 L406.62 333.73 L406.87 333.89 L407.11 334.04 L407.36 334.20 L407.61 334.37 L407.86 334.53 L408.10 334.70 L408.35 334.86 L408.59 335.03 L408.84 335.20 L409.08 335.37 L409.32 335.55 L409.57 335.72 L409.81 335.90 L410.05 336.08 L410.29 336.26 L410.53 336.44 L410.77 336.63 L411.01 336.81 L411.24 337.00 L411.48 337.18 L411.72 337.37 L411.95 337.56 L412.19 337.76 L412.42 337.95 L412.66 338.15 L412.89 338.34 L413.12 338.54 L413.35 338.74 L413.58 338.94 L413.81 339.14 L414.04 339.34 L414.27 339.55 L414.50 339.75 L414.72 339.96 L414.95 340.16 L415.18 340.37 L415.40 340.58 L415.62 340.79 L415.85 341.00 L416.07 341.22 L416.29 341.43 L416.51 341.64 L416.73 341.86 L416.95 342.08 L417.17 342.29 L417.39 342.51 L417.60 342.73 L417.82 342.95 L418.04 343.17 L418.25 343.39 L418.46 343.61 L418.68 343.84 L418.89 344.06 L419.10 344.28 L419.31 344.51 L419.52 344.73 L419.73 344.96 L419.93 345.19 L420.14 345.41 L420.35 345.64 L420.55 345.87 L420.76 346.10 L420.96 346.33 L421.16 346.56 L421.36 346.79 L421.56 347.02 L421.76 347.25 L421.96 347.48 L422.16 347.71 L422.36 347.95 L422.55 348.18 L422.75 348.41 L422.94 348.65 L423.13 348.88 L423.33 349.11 L423.52 349.35 L423.71 349.58 L423.90 349.82 L424.09 350.05 L424.28 350.29 L424.47 350.53 L424.65 350.76 L424.84 351.00 L425.03 351.24 L425.21 351.47 L425.39 351.71 L425.58 351.95 L425.76 352.19 L425.94 352.43 L426.13 352.67 L426.31 352.91 L426.49 353.15 L426.67 353.38 L426.85 353.62 L427.03 353.87 L427.20 354.11 L427.38 354.35 L427.56 354.59 L427.73 354.83 L427.91 355.07 L428.09 355.31 L428.26 355.55 L428.43 355.80 L428.61 356.04 L428.78 356.28 L428.95 356.52 L429.13 356.77 L429.30 357.01 L429.47 357.25 L429.64 357.50 L429.81 357.74 L429.98 357.99 L430.15 358.23 L430.32 358.47 L430.49 358.72 L430.66 358.96 L430.83 359.21 L431.00 359.45 L431.17 359.70 L431.33 359.94 L431.50 360.19 L431.67 360.43 L431.84 360.68 L432.00 360.93 L432.17 361.17 L432.33 361.42 L432.50 361.66 L432.66 361.91 L432.83 362.16 L432.99 362.40 L433.16 362.65 L433.32 362.90 L433.49 363.14 L433.65 363.39 L433.81 363.64 L433.98 363.88 L434.14 364.13 L434.30 364.38 L434.47 364.63 L434.63 364.87 L434.79 365.12 L434.95 365.37 L435.11 365.62 L435.27 365.87 L435.43 366.11 L435.60 366.36 L435.76 366.61 L435.92 366.86 L436.08 367.11 L436.23 367.36 L436.39 367.61 L436.55 367.86 L436.71 368.11 L436.87 368.35 L437.03 368.60 L437.19 368.85 L437.34 369.10 L437.50 369.35 L437.66 369.60 L437.82 369.85 L437.97 370.10 L438.13 370.35 L438.29 370.60 L438.44 370.85 L438.60 371.10 L438.75 371.36 L438.91 371.61 L439.06 371.86 L439.22 372.11 L439.37 372.36 L439.53 372.61 L439.68 372.86 L439.83 373.11 L439.99 373.37 L440.14 373.62 L440.29 373.87 L440.45 374.12 L440.60 374.37 L440.75 374.63 L440.90 374.88 L441.05 375.13 L441.21 375.38 L441.36 375.64 L441.51 375.89 L441.66 376.14 L441.81 376.39 L441.96 376.65 L442.11 376.90 L442.26 377.15 L442.41 377.41 L442.56 377.66 L442.71 377.91 L442.86 378.17 L443.01 378.42 L443.16 378.68 L443.30 378.93 L443.45 379.18 L443.60 379.44 L443.75 379.69 L443.90 379.95 L444.04 380.20 L444.19 380.46 L444.34 380.71 L444.48 380.97 L444.63 381.22 L444.78 381.48 L444.92 381.73 L445.07 381.99 L445.21 382.24 L445.36 382.50 L445.51 382.75 L445.65 383.01 L445.79 383.26 L445.94 383.52 L446.08 383.78 L446.23 384.03 L446.37 384.29 L446.52 384.55 L446.66 384.80 L446.80 385.06 L446.95 385.32 L447.09 385.57 L447.23 385.83 L447.37 386.09 L447.52 386.34 L447.66 386.60 L447.80 386.86 L447.94 387.11 L448.08 387.37 L448.22 387.63 L448.37 387.89 L448.51 388.14 L448.65 388.40 L448.79 388.66 L448.93 388.92 L449.07 389.18 L449.21 389.44 L449.35 389.69 L449.49 389.95 L449.63 390.21 L449.77 390.47 L449.91 390.73 L450.04 390.99 L450.18 391.25 L450.32 391.50 L450.46 391.76 L450.60 392.02 L450.74 392.28 L450.87 392.54 L451.01 392.80 L451.15 393.06 L451.29 393.32 L451.42 393.58 L451.56 393.84 L451.70 394.10 L451.83 394.36 L451.97 394.62 L452.11 394.88 L452.24 395.14 L452.38 395.40 L452.51 395.66 L452.65 395.92 L452.78 396.18 L452.92 396.44 L453.05 396.70 L453.19 396.97 L453.32 397.23 L453.46 397.49 L453.59 397.75 L453.73 398.01 L453.86 398.27 L454.00 398.53 L454.13 398.79 L454.26 399.06 L454.40 399.32 L454.53 399.58 L454.66 399.84 L454.80 400.10 L454.93 400.37 L455.06 400.63 L455.19 400.89 L455.33 401.15 L455.46 401.41 L455.59 401.68 L455.72 401.94 L455.85 402.20 L455.98 402.47 L456.12 402.73 L456.25 402.99 L456.38 403.25 L456.51 403.52 L456.64 403.78 L456.77 404.04 L456.90 404.31 L457.03 404.57 L457.16 404.83 L457.29 405.10 L457.42 405.36 L457.55 405.63 L457.68 405.89 L457.81 406.15 L457.94 406.42 L458.07 406.68 L458.20 406.95 L458.33 407.21 L458.46 407.47 L458.59 407.74 L458.71 408.00 L458.84 408.27 L458.97 408.53 L459.10 408.80 L459.23 409.06 L459.36 409.33 L459.48 409.59 L459.61 409.86 L459.74 410.12 L459.87 410.39 L459.99 410.65 L460.12 410.92 L460.25 411.18 L460.37 411.45 L460.50 411.71 L460.63 411.98 L460.75 412.25 L460.88 412.51 L461.01 412.78 L461.13 413.04 L461.26 413.31 L461.39 413.58 L461.51 413.84 L461.64 414.11 L461.76 414.37 L461.89 414.64 L462.01 414.91 L462.14 415.17 L462.26 415.44 L462.39 415.71 L462.51 415.97 L462.64 416.24 L462.76 416.51 L462.89 416.77 L463.01 417.04 L463.14 417.31 L463.26 417.58 L463.39 417.84 L463.51 418.11 L463.64 418.38 L463.76 418.65 L463.88 418.91 L464.01 419.18 L464.13 419.45 L464.25 419.72 L464.38 419.98 L464.50 420.25 L464.62 420.52 L464.75 420.79 L464.87 421.06 L464.99 421.32 L465.12 421.59 L465.24 421.86 L465.36 422.13 L465.48 422.40 L465.61 422.67 L465.73 422.93 L465.85 423.20 L465.97 423.47 L466.10 423.74 L466.22 424.01 L466.34 424.28 L466.46 424.55 L466.58 424.82 L466.71 425.09 L466.83 425.35 L466.95 425.62 L467.07 425.89 L467.19 426.16 L467.31 426.43 L467.44 426.70 L467.56 426.97 L467.68 427.24 L467.80 427.51 L467.92 427.78 L468.04 428.05 L468.16 428.32 L468.28 428.59 L468.40 428.86 L468.52 429.13 L468.65 429.40 L468.77 429.67 L468.89 429.94 L469.01 430.21 L469.13 430.48 L469.25 430.75 L469.37 431.02 L469.49 431.29 L469.61 431.56 L469.73 431.83 L469.85 432.10 L469.97 432.37 L470.09 432.65 L470.21 432.92 L470.33 433.19 L470.45 433.46 L470.57 433.73 L470.69 434.00 L470.81 434.27 L470.93 434.54 L471.05 434.81 L471.16 435.08 L471.28 435.36 L471.40 435.63 L471.52 435.90 L471.64 436.17 L471.76 436.44 L471.88 436.71 L472.00 436.99 L472.12 437.26 L472.24 437.53 L472.36 437.80 L472.48 438.07 L472.59 438.34 L472.71 438.62 L472.83 438.89 L472.95 439.16 L473.07 439.43 L473.19 439.70 L473.31 439.98 L473.42 440.25 L473.54 440.52 L473.66 440.79 L473.78 441.07 L473.90 441.34 L474.02 441.61 L474.14 441.88 L474.25 442.16 L474.37 442.43 L474.49 442.70 L474.61 442.98 L474.73 443.25 L474.85 443.52 L474.96 443.79 L475.08 444.07 L475.20 444.34 L475.32 444.61 L475.44 444.89 L475.55 445.16 L475.67 445.43 L475.79 445.71 L475.91 445.98 L476.03 446.25 L476.14 446.53 L476.26 446.80 L476.38 447.07 L476.50 447.35 L476.62 447.62 L476.73 447.89 L476.85 448.17 L476.97 448.44 L477.09 448.71 L477.21 448.99 L477.32 449.26 L477.44 449.54" fill="none" stroke="#111" stroke-width="4.3" stroke-dasharray="8.40 8.07" stroke-dashoffset="-10.09"/>
<line x1="568.6" y1="41.7" x2="576.5" y2="41.7" stroke="#111" stroke-width="4"/>
<line x1="585.2" y1="41.7" x2="593.1" y2="41.7" stroke="#111" stroke-width="4"/>
<line x1="601.6" y1="41.7" x2="609.5" y2="41.7" stroke="#111" stroke-width="4"/>
<line x1="568.6" y1="80.6" x2="610.9" y2="80.6" stroke="#231f20" stroke-width="4.3"/>
<text x="191.75" y="38.00" font-size="24.36" text-anchor="end">120</text>
<text x="191.50" y="107.45" font-size="24.36" text-anchor="end">100</text>
<text x="191.00" y="177.40" font-size="24.36" text-anchor="end">80</text>
<text x="190.50" y="247.35" font-size="24.36" text-anchor="end">60</text>
<text x="191.00" y="316.30" font-size="24.36" text-anchor="end">40</text>
<text x="191.00" y="387.25" font-size="24.36" text-anchor="end">20</text>
<text x="190.75" y="457.20" font-size="24.36" text-anchor="end">0</text>
<text x="100.50" y="42.60" font-size="24.18" font-style="italic" text-anchor="end">.48</text>
<text x="101.00" y="111.50" font-size="24.18" font-style="italic" text-anchor="end">.40</text>
<text x="100.25" y="181.90" font-size="24.18" font-style="italic" text-anchor="end">.32</text>
<text x="100.75" y="251.80" font-size="24.18" font-style="italic" text-anchor="end">.24</text>
<text x="99.75" y="320.70" font-size="24.18" font-style="italic" text-anchor="end">.16</text>
<text x="99.75" y="391.60" font-size="24.18" font-style="italic" text-anchor="end">.08</text>
<text x="206.95" y="483.00" font-size="23.50" text-anchor="middle">0</text>
<text x="288.60" y="483.00" font-size="23.50" text-anchor="middle">1</text>
<text x="369.95" y="483.00" font-size="23.50" text-anchor="middle">2</text>
<text x="451.95" y="483.00" font-size="23.50" text-anchor="middle">3</text>
<text x="533.35" y="482.50" font-size="23.50" text-anchor="middle">4</text>
<text x="289.90" y="553.80" font-size="23.50" font-style="italic" text-anchor="middle">35</text>
<text x="366.60" y="553.80" font-size="23.50" font-style="italic" text-anchor="middle">70</text>
<text x="447.80" y="554.40" font-size="23.50" font-style="italic" text-anchor="middle">106</text>
<text x="530.05" y="554.40" font-size="23.50" font-style="italic" text-anchor="middle">141</text>
<text x="562.00" y="552.80" font-size="24.16" font-style="italic">CFM</text>
<text x="277.25" y="584.20" font-size="28.52">Air Flow</text>
<text transform="translate(45.80 324.00) rotate(-90)" font-size="28.63">Static Pressure</text>
<text x="17.00" y="357.20" font-size="28.90">Ps</text>
<text x="620.50" y="49.00" font-size="28.76">60Hz</text>
<text x="620.70" y="90.10" font-size="28.50">50Hz</text>
<text x="559.50" y="481.70" font-size="24.00">(</text>
<text x="566.25" y="483.20" font-size="24.00" textLength="22.00" lengthAdjust="spacingAndGlyphs">m</text>
<text x="587.00" y="477.00" font-size="17.50">3</text>
<text x="597.05" y="483.20" font-size="24.00">/</text>
<text x="604.35" y="482.80" font-size="24.00" textLength="46.40" lengthAdjust="spacingAndGlyphs">min</text>
<text x="652.00" y="481.70" font-size="24.00">)</text>
</svg></body></html>
